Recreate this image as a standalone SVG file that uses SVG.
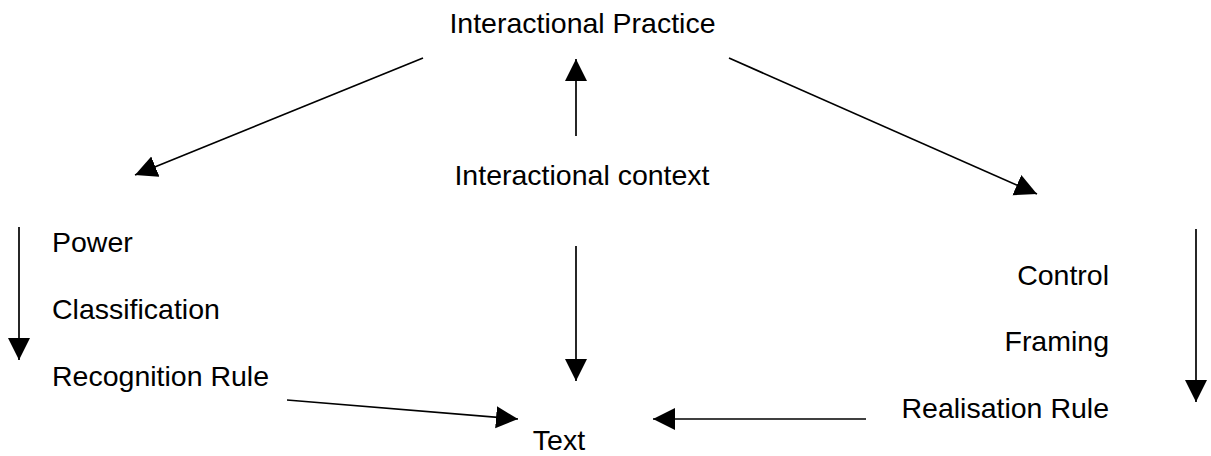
<svg xmlns="http://www.w3.org/2000/svg" width="1211" height="456" viewBox="0 0 1211 456">
<style>
text{font-family:"Liberation Sans",Arial,sans-serif;font-size:28.5px;fill:#000}
.c{text-anchor:middle}
.r{text-anchor:end}
.ln{stroke:#000;stroke-width:1.7;fill:none;marker-end:url(#ah)}
</style>
<defs>
<marker id="ah" markerUnits="userSpaceOnUse" markerWidth="23" markerHeight="23" refX="22" refY="11" orient="auto" viewBox="0 0 23 23">
<path d="M0,0 L22,11 L0,22 z" fill="#000"/>
</marker>
</defs>
<rect width="1211" height="456" fill="#fff"/>
<g id="practice"><text class="c" x="582.5" y="33">Interactional Practice</text></g>
<g id="context"><text class="c" x="582" y="185">Interactional context</text></g>
<g id="left-list">
<text x="52" y="252">Power</text>
<text x="52" y="319">Classification</text>
<text x="52" y="386">Recognition Rule</text>
</g>
<g id="right-list">
<text class="r" x="1109" y="285">Control</text>
<text class="r" x="1109" y="351">Framing</text>
<text class="r" x="1109" y="418">Realisation Rule</text>
</g>
<g id="text"><text class="c" x="559" y="450">Text</text></g>
<g id="connectors">
<line class="ln" x1="423" y1="58" x2="135" y2="175"/>
<line class="ln" x1="729" y1="58" x2="1037" y2="194"/>
<line class="ln" x1="576" y1="136" x2="576" y2="59"/>
<line class="ln" x1="576" y1="246" x2="576" y2="381"/>
<line class="ln" x1="19" y1="227" x2="19" y2="360"/>
<line class="ln" x1="1196" y1="229" x2="1196" y2="402"/>
<line class="ln" x1="287" y1="400" x2="518" y2="419"/>
<line class="ln" x1="866" y1="419" x2="653" y2="419"/>
</g>
</svg>
